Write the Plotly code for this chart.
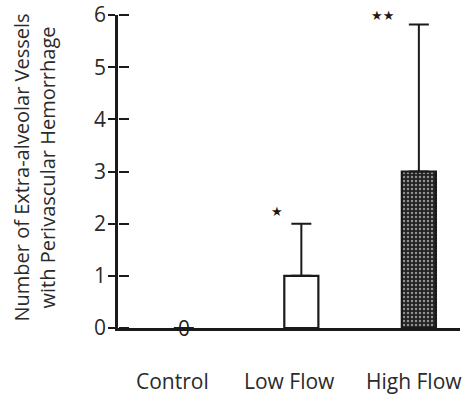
import plotly.graph_objects as go

categories = ["Control", "Low Flow", "High Flow"]
means = [0, 1.0, 3.0]
errors_up = [0, 1.0, 2.82]
significance = ["", "★", "★★"]
y_ticks = [0, 1, 2, 3, 4, 5, 6]
y_title = "Number of Extra-alveolar Vessels<br>with Perivascular Hemorrhage"

xpos = [0, 1, 2]
label_pos = [-0.1, 0.9, 1.96]
FONT = "Open Sans"
INK = "#1a1a1a"
TXT = "#2a2a2a"

fig = go.Figure()
fig.add_trace(go.Bar(
    x=xpos, y=means, width=0.29,
    marker=dict(
        color=["white", "white", "#222222"],
        line=dict(color=["rgba(0,0,0,0)", INK, INK], width=2.2),
        pattern=dict(shape=["", "", "."], fgcolor="#5c5c5c", bgcolor="#1f1f1f", size=4, solidity=0.3),
    ),
    error_y=dict(type="data", symmetric=False, array=[None if e == 0 else e for e in errors_up],
                 arrayminus=[0, 0, 0], color=INK, thickness=2, width=10),
    showlegend=False, hoverinfo="skip",
))
# invisible trace to activate the second (crossing-tick) y axis
fig.add_trace(go.Scatter(x=xpos, y=means, yaxis="y2", mode="markers",
                         marker=dict(opacity=0), showlegend=False, hoverinfo="skip"))

# zero label for control
fig.add_annotation(x=xpos[0], y=means[0], text=str(int(means[0])), showarrow=False,
                   font=dict(family=FONT, size=21, color=INK), yanchor="middle", xanchor="center")

# significance stars
star_pos = [None, (0.79, 2.24), (1.69, 5.99)]
for s, p in zip(significance, star_pos):
    if s and p:
        fig.add_annotation(x=p[0], y=p[1], text=s, showarrow=False,
                           font=dict(family="DejaVu Sans", size=13, color=INK),
                           xanchor="center", yanchor="middle")

# category labels
for c, lx in zip(categories, label_pos):
    fig.add_annotation(x=lx, xref="x", yref="paper", y=0, yshift=-53, text=c, showarrow=False,
                       font=dict(family=FONT, size=21, color=TXT), xanchor="center", yanchor="middle")

# y title
fig.add_annotation(xref="paper", yref="paper", x=0, y=0.5, xshift=-84, yshift=4,
                   text=y_title, textangle=-90, showarrow=False,
                   font=dict(family=FONT, size=20, color=TXT),
                   xanchor="center", yanchor="middle")

fig.update_layout(
    width=470, height=397,
    margin=dict(l=118, r=10, t=15, b=69, autoexpand=False),
    paper_bgcolor="white", plot_bgcolor="white",
    font=dict(family=FONT, size=21, color=TXT),
    hovermode=False,
    xaxis=dict(range=[-0.56, 2.35], showticklabels=False, automargin=False,
               showline=True, linecolor=INK, linewidth=2.5, ticks="", showgrid=False,
               zeroline=False),
    yaxis=dict(range=[0, 6], tickvals=y_ticks, showline=True, linecolor=INK, linewidth=2.5,
               ticks="outside", ticklen=7, tickwidth=2, tickcolor=INK, showgrid=False,
               zeroline=False, ticklabelstandoff=-2, automargin=False,
               ticklabeloverflow="allow"),
    yaxis2=dict(range=[0, 6], tickvals=y_ticks, overlaying="y", side="right", anchor="free",
                position=0, ticks="outside", ticklen=10, tickwidth=2, tickcolor=INK,
                showticklabels=False, showline=False, showgrid=False, zeroline=False,
                automargin=False),
)

fig.write_html("out.html", config={"displayModeBar": False},
               post_script="document.body.style.margin='0';")
